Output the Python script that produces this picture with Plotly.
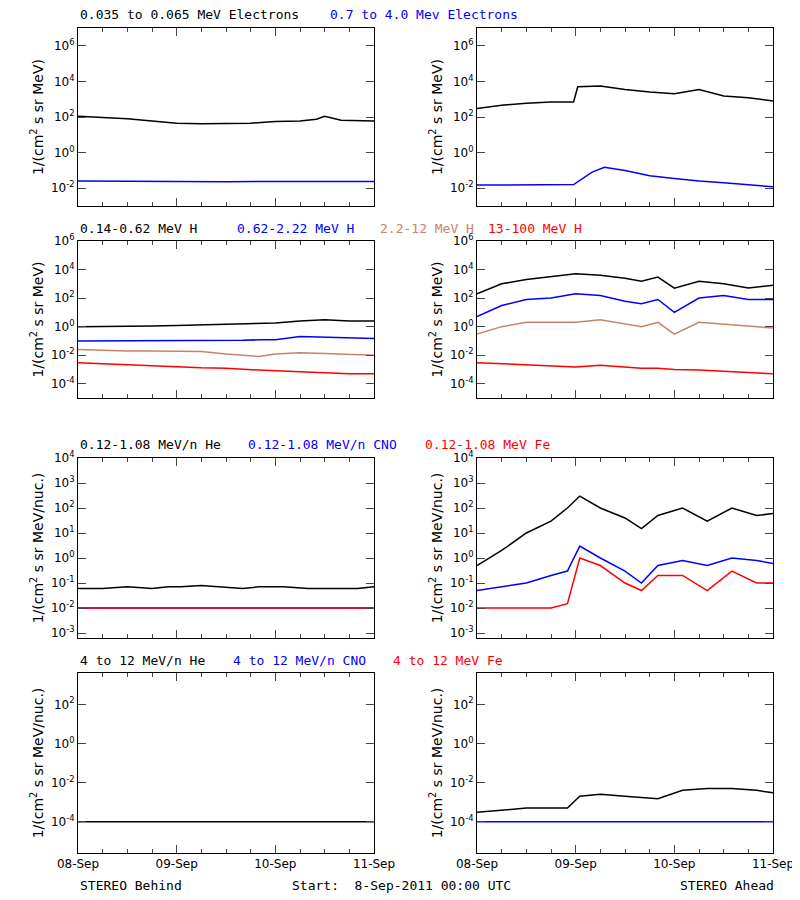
import plotly.graph_objects as go

W, H = 800, 900
OFF_X, OFF_Y = 10, 5  # page offset compensation
BLUE, RED, BROWN = "#0000ff", "#ff0000", "#c8826a"

# hours since 08-Sep-2011 00:00 UTC
e_lo_b_t = [0, 6, 12, 18, 24, 30, 36, 42, 48, 54, 58, 60, 64, 72]
e_lo_b = [110, 95, 80, 60, 45, 42, 45, 45, 55, 60, 75, 110, 65, 60]
e_hi_b_t = [0, 12, 24, 36, 48, 60, 72]
e_hi_b = [0.025, 0.024, 0.025, 0.023, 0.024, 0.025, 0.024]
e_lo_a_t = [0, 6, 12, 18, 23.5, 24.5, 30, 36, 42, 48, 54, 60, 66, 72]
e_lo_a = [300, 450, 600, 700, 700, 5000, 5500, 3500, 2500, 2000, 3500, 1500, 1200, 800]
e_hi_a_t = [0, 6, 12, 18, 23.5, 28, 31, 36, 42, 48, 54, 60, 66, 72]
e_hi_a = [0.015, 0.015, 0.015, 0.016, 0.016, 0.08, 0.15, 0.1, 0.05, 0.035, 0.025, 0.02, 0.015, 0.012]

h_t = [0, 6, 12, 18, 24, 30, 36, 40, 44, 48, 54, 60, 66, 72]
h1_b = [1, 1, 1.1, 1.1, 1.2, 1.3, 1.4, 1.5, 1.6, 1.8, 2.5, 3, 2.5, 2.5]
h2_b = [0.1, 0.1, 0.1, 0.1, 0.11, 0.11, 0.11, 0.11, 0.12, 0.12, 0.2, 0.18, 0.16, 0.15]
h3_b = [0.025, 0.022, 0.02, 0.02, 0.02, 0.018, 0.012, 0.01, 0.008, 0.012, 0.015, 0.013, 0.012, 0.01]
h4_b = [0.003, 0.0025, 0.002, 0.0018, 0.0015, 0.0013, 0.0012, 0.001, 0.0009, 0.0008, 0.0007, 0.0006, 0.0005, 0.0005]
h1_a = [200, 1000, 2000, 3000, 5000, 4000, 2500, 1500, 3000, 500, 1500, 1000, 500, 800]
h2_a = [5, 30, 80, 100, 200, 150, 60, 40, 80, 10, 100, 150, 80, 80]
h3_a = [0.3, 1, 2, 2, 2, 3, 1.5, 1, 2, 0.3, 2, 1.5, 1, 0.8]
h4_a = [0.003, 0.0025, 0.002, 0.0018, 0.0015, 0.002, 0.0015, 0.0012, 0.0012, 0.001, 0.0009, 0.0007, 0.0006, 0.0005]

m_t = [0, 6, 12, 18, 22, 25, 30, 36, 40, 44, 50, 56, 62, 68, 72]
he_b = [0.06, 0.06, 0.07, 0.06, 0.07, 0.07, 0.08, 0.07, 0.06, 0.07, 0.07, 0.06, 0.06, 0.06, 0.07]
cno_b = [0.01] * 15
fe_b = [0.01] * 15
he_a = [0.5, 2, 10, 30, 100, 300, 100, 40, 15, 50, 100, 30, 100, 50, 60]
cno_a = [0.05, 0.07, 0.1, 0.2, 0.3, 3, 1, 0.3, 0.1, 0.5, 0.8, 0.5, 1, 0.8, 0.6]
fe_a = [0.01, 0.01, 0.01, 0.01, 0.015, 1, 0.5, 0.1, 0.05, 0.2, 0.2, 0.05, 0.3, 0.1, 0.1]

hi_t = [0, 6, 12, 18, 22, 25, 30, 36, 44, 50, 56, 62, 68, 72]
hhe_b = [1e-4] * 14
hhe_a = [3e-4, 4e-4, 5e-4, 5e-4, 5e-4, 2e-3, 2.5e-3, 2e-3, 1.5e-3, 4e-3, 5e-3, 5e-3, 4e-3, 3e-3]
hcno_a = [1e-4] * 14

rows = [
    dict(top=25, bot=203, rng=[-3, 7], tv=[-2, 0, 2, 4, 6], unit="MeV",
         left=[(e_lo_b_t, e_lo_b, "black"), (e_hi_b_t, e_hi_b, BLUE)],
         right=[(e_lo_a_t, e_lo_a, "black"), (e_hi_a_t, e_hi_a, BLUE)],
         titles=[("0.035 to 0.065 MeV Electrons", 80, "black"), ("0.7 to 4.0 Mev Electrons", 330, BLUE)]),
    dict(top=238, bot=395, rng=[-5, 6], tv=[-4, -2, 0, 2, 4, 6], unit="MeV",
         left=[(h_t, h1_b, "black"), (h_t, h2_b, BLUE), (h_t, h3_b, BROWN), (h_t, h4_b, RED)],
         right=[(h_t, h1_a, "black"), (h_t, h2_a, BLUE), (h_t, h3_a, BROWN), (h_t, h4_a, RED)],
         titles=[("0.14-0.62 MeV H", 80, "black"), ("0.62-2.22 MeV H", 237, BLUE),
                 ("2.2-12 MeV H", 380, BROWN), ("13-100 MeV H", 488, RED)]),
    dict(top=455, bot=635, rng=[-3.2, 4], tv=[-3, -2, -1, 0, 1, 2, 3, 4], unit="MeV/nuc.",
         left=[(m_t, he_b, "black"), (m_t, cno_b, BLUE), (m_t, fe_b, RED)],
         right=[(m_t, he_a, "black"), (m_t, cno_a, BLUE), (m_t, fe_a, RED)],
         titles=[("0.12-1.08 MeV/n He", 80, "black"), ("0.12-1.08 MeV/n CNO", 248, BLUE),
                 ("0.12-1.08 MeV Fe", 425, RED)]),
    dict(top=670, bot=850, rng=[-5.6, 3.6], tv=[-4, -2, 0, 2], unit="MeV/nuc.",
         left=[(hi_t, hhe_b, "black")],
         right=[(hi_t, hhe_a, "black"), (hi_t, hcno_a, BLUE)],
         titles=[("4 to 12 MeV/n He", 80, "black"), ("4 to 12 MeV/n CNO", 233, BLUE),
                 ("4 to 12 MeV Fe", 393, RED)]),
]

fig = go.Figure()
xdom = [(80, 376), (479, 775)]
n = 0
for r, row in enumerate(rows):
    for c, side in enumerate(["left", "right"]):
        n += 1
        xa = "x" if n == 1 else f"x{n}"
        ya = "y" if n == 1 else f"y{n}"
        for t, v, col in row[side]:
            fig.add_trace(go.Scatter(x=t, y=v, mode="lines", line=dict(color=col, width=1.5),
                                     xaxis=xa, yaxis=ya, showlegend=False))
        last = r == len(rows) - 1
        fig.layout[f"xaxis{'' if n == 1 else n}"] = dict(
            domain=[(xdom[c][0] - OFF_X) / W, (xdom[c][1] - OFF_X) / W], range=[0, 72], anchor=ya,
            tickvals=[0, 24, 48, 72], ticktext=["08-Sep", "09-Sep", "10-Sep", "11-Sep"],
            showticklabels=last, ticks="inside", ticklen=8, mirror="ticks",
            showline=True, linecolor="black", showgrid=False, zeroline=False,
            minor=dict(tickvals=list(range(0, 73, 6)), ticks="inside", ticklen=4))
        fig.layout[f"yaxis{'' if n == 1 else n}"] = dict(
            domain=[1 - (row["bot"] - OFF_Y) / H, 1 - (row["top"] - OFF_Y) / H], type="log",
            range=row["rng"], anchor=xa, tickvals=[10 ** k for k in row["tv"]],
            ticktext=[f"10<sup>{k}</sup>" for k in row["tv"]],
            ticks="inside", ticklen=8, mirror="ticks", showline=True, linecolor="black",
            showgrid=False, zeroline=False,
            title=dict(text=f"1/(cm<sup>2</sup> s sr {row['unit']})", standoff=4))
    for txt, x, col in row["titles"]:
        fig.add_annotation(text=txt, x=(x - OFF_X) / W, y=1 - (row["top"] - 13 - OFF_Y) / H,
                           xref="paper", yref="paper", xanchor="left", yanchor="middle",
                           showarrow=False,
                           font=dict(color=col, size=13, family="DejaVu Sans Mono"))

for txt, x in [("STEREO Behind", 80), ("Start:  8-Sep-2011 00:00 UTC", 292), ("STEREO Ahead", 680)]:
    fig.add_annotation(text=txt, x=(x - OFF_X) / W, y=1 - (882 - OFF_Y) / H, xref="paper", yref="paper",
                       xanchor="left", yanchor="middle", showarrow=False,
                       font=dict(size=13, family="DejaVu Sans Mono"))

fig.update_layout(width=W, height=H, margin=dict(l=0, r=0, t=0, b=0, autoexpand=False),
                  paper_bgcolor="white", plot_bgcolor="white",
                  font=dict(family="DejaVu Sans", size=12, color="black"))
fig.write_html("out.html")
